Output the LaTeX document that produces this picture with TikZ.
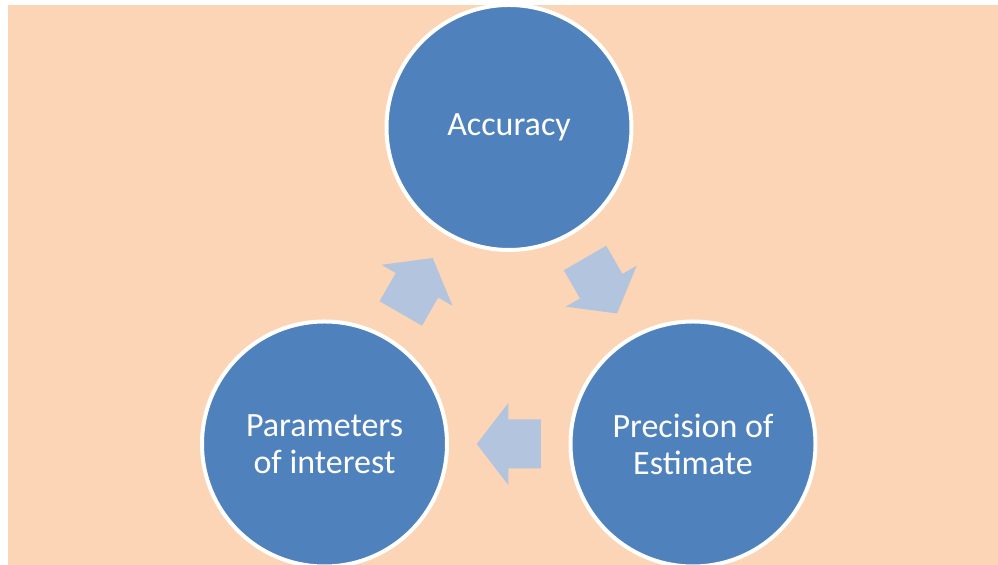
\documentclass[tikz,border=0pt]{standalone}
\usepackage{fontspec}
\setmainfont{Carlito}
\usetikzlibrary{calc}

\definecolor{peach}{HTML}{FBD5B5}
\definecolor{stageblue}{HTML}{4F81BD}
\definecolor{arrowblue}{HTML}{B3C4DF}

\tikzset{
  stage/.style={circle, fill=stageblue, draw=white, line width=2pt,
    minimum size=122.5pt, inner sep=0pt, text=white, align=center,
    font=\fontsize{17}{18.5}\selectfont},
  pics/blockarrow/.style={code={
    \fill[arrowblue] (-32,-24.5) -- (0.5,-24.5) -- (0.5,-41) -- (32,0)
      -- (0.5,41) -- (0.5,24.5) -- (-32,24.5) -- cycle;}}
}

\begin{document}
\begin{tikzpicture}[x=0.5pt,y=-0.5pt]
\useasboundingbox (0,0) rectangle (998,565);
\clip (0,0) rectangle (998,565);
\fill[peach] (8,5) rectangle (998,565);
\node[stage] (acc) at (509,127.5) {Accuracy};
\node[stage] (par) at (324.5,444) {Parameters\\of interest};
\node[stage] (pre) at (693,444) {Precision of\\Estimate};
% arrows
\pic[rotate=60] at ($(par)!0.5!(acc)$) {blockarrow};
\pic[rotate=-60] at ($(acc)!0.5!(pre)$) {blockarrow};
\pic[rotate=180] at ($(pre)!0.5!(par)$) {blockarrow};
\end{tikzpicture}
\end{document}
